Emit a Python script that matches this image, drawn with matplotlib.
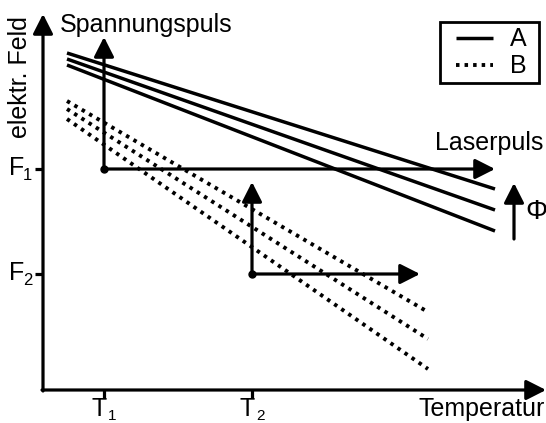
import matplotlib.pyplot as plt

plt.rcParams['font.family'] = ['Liberation Sans', 'DejaVu Sans']

# sketch coordinates (pixels of the original drawing, y grows downward)
x_start = 67
# field lines for sample A (solid) and B (dotted): start y, end x, end y
a_start = [53, 59, 65]
a_end_x = 495
a_end = [189, 210, 231]
b_start = [101, 109, 119]
b_end_x = 428
b_end = [312, 339, 369]

# marked temperatures and fields
t_pos = [104, 252]
t_subs = ['1', '2']
f_pos = [169, 274]
f_subs = ['1', '2']

# pulses: start point (T, F), top of voltage pulse, end of laser pulse
pulse_top = [37, 182]
pulse_end = [495, 420]

fig = plt.figure(figsize=(5.46, 4.23), dpi=100)
ax = fig.add_axes([0, 0, 1, 1])
ax.set_xlim(0, 546)
ax.set_ylim(423, 0)
ax.axis('off')

fs = 18
lw = 2.3
head = dict(arrowstyle='-|>,head_length=0.75,head_width=0.38', color='k',
            lw=lw, mutation_scale=16, shrinkA=0, shrinkB=0)

# axes
x0, y0 = 43, 390
ax.annotate('', xy=(x0, 14), xytext=(x0, y0 + 1), arrowprops=head)
ax.annotate('', xy=(546, y0), xytext=(x0 - 1, y0), arrowprops=head)

for t, sub in zip(t_pos, t_subs):
    ax.plot([t, t], [y0, y0 + 8], color='k', lw=lw, solid_capstyle='butt')
    ax.text(t - 5, 416, 'T', ha='center', va='baseline', fontsize=fs)
    ax.text(t + 4, 420, sub, ha='left', va='baseline', fontsize=11)
for f, sub in zip(f_pos, f_subs):
    ax.plot([x0 - 8, x0], [f, f], color='k', lw=lw, solid_capstyle='butt')
    ax.text(9, f + 6, 'F', ha='left', va='baseline', fontsize=fs)
    ax.text(23, f + 11, sub, ha='left', va='baseline', fontsize=12)

ax.text(20, 77, 'elektr. Feld', rotation=90, ha='center', va='center', fontsize=fs)
ax.text(545, 409, 'Temperatur', ha='right', va='center', fontsize=fs)

# field lines
for ys, ye in zip(a_start, a_end):
    ax.plot([x_start, a_end_x], [ys, ye], color='k', lw=2.5, solid_capstyle='butt')
for ys, ye in zip(b_start, b_end):
    ax.plot([x_start, b_end_x], [ys, ye], color='k', lw=2.8,
            linestyle=(0, (0.9, 1.3)))

# pulses
for t, f, top, end in zip(t_pos, f_pos, pulse_top, pulse_end):
    ax.annotate('', xy=(t, top), xytext=(t, f), arrowprops=head)
    ax.annotate('', xy=(end, f), xytext=(t, f), arrowprops=head)
    ax.plot(t, f, 'o', color='k', ms=5)

ax.text(60, 25, 'Spannungspuls', ha='left', va='center', fontsize=fs)
ax.text(543, 143, 'Laserpuls', ha='right', va='center', fontsize=fs)

# work function arrow
ax.annotate('', xy=(514, 183), xytext=(514, 239), arrowprops=head)
ax.text(525, 212, '\u03a6', ha='left', va='center', fontsize=20)

# legend
ax.add_patch(plt.Rectangle((440, 22), 99, 61, fill=False, ec='k', lw=2))
ax.plot([456, 493], [38, 38], color='k', lw=2.5, solid_capstyle='butt')
ax.plot([456, 493], [65, 65], color='k', lw=2.8, linestyle=(0, (0.9, 1.3)))
ax.text(518, 39, 'A', ha='center', va='center', fontsize=fs)
ax.text(518, 66, 'B', ha='center', va='center', fontsize=fs)

fig.savefig('out.png', dpi=100)
